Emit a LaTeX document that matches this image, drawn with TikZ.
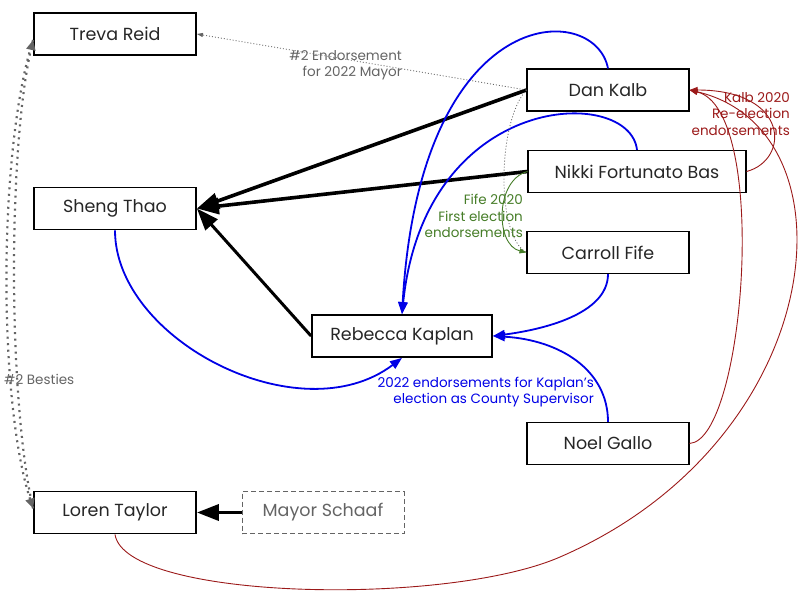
\documentclass[tikz,border=0pt]{standalone}
\usepackage{fontspec}
\setmainfont{Poppins}
\usetikzlibrary{arrows.meta}
\definecolor{kred}{RGB}{155,25,25}
\definecolor{kgreen}{RGB}{70,125,40}
\definecolor{kblue}{RGB}{0,0,230}
\definecolor{kgray}{RGB}{100,100,100}
\begin{document}
\begin{tikzpicture}[x=1pt,y=-1pt,
  person/.style={draw=black, line width=1.8pt, minimum width=162pt, minimum height=42pt, inner sep=0pt, text=black!85, font=\fontsize{17.5}{20}\selectfont},
  thinperson/.style={person, line width=1.1pt},
  strong/.style={line width=3.6pt, -{Triangle[length=22pt,width=16pt]}},
  blueedge/.style={kblue, line width=1.8pt, -{Triangle[length=12pt,width=9pt]}},
  rededge/.style={kred, line width=0.9pt, -{Triangle[length=8pt,width=6pt]}},
  greenedge/.style={kgreen, line width=0.9pt, -{Triangle[length=7pt,width=5pt]}},
  graythin/.style={kgray, line width=0.8pt, dash pattern=on 1pt off 2pt},
  besties/.style={kgray, line width=2.2pt, dash pattern=on 2pt off 4.5pt, -{Triangle[length=10pt,width=9pt,sep=0pt]}},
  lbl/.style={inner sep=0pt, align=right, font=\fontsize{13.5}{16.5}\selectfont}
]
\useasboundingbox (0,0) rectangle (800,600);

% nodes
\node[person] (treva) at (115,34) {Treva Reid};
\node[person] (sheng) at (115,208.5) {Sheng Thao};
\node[person] (loren) at (115,512.5) {Loren Taylor};
\node[person, minimum width=180pt] (kaplan) at (402,336) {Rebecca Kaplan};
\node[thinperson] (kalb) at (608,90) {Dan Kalb};
\node[thinperson, minimum width=218pt] (bas) at (637,171.5) {Nikki Fortunato Bas};
\node[thinperson] (fife) at (608,252.5) {Carroll Fife};
\node[thinperson] (gallo) at (608,443.5) {Noel Gallo};
\node[person, draw=kgray, text=kgray, line width=0.8pt, dash pattern=on 5pt off 3pt] (schaaf) at (323,512.5) {Mayor Schaaf};

% strong endorsements
\draw[strong] (kalb.west) -- (sheng.east);
\draw[strong] (bas.west) -- (sheng.east);
\draw[strong, line width=3pt] (kaplan.west) -- (sheng.east);
\draw[strong] (schaaf.west) -- (loren.east);

% mayor endorsement
\draw[graythin, -{Triangle[length=6pt,width=4pt]}] (kalb.west) -- (treva.east);
\node[lbl, text=kgray, anchor=east] (lmayor) at (402,65) {\#2 Endorsement\\for 2022 Mayor};

% besties
\draw[besties] ([yshift=-6pt]treva.west) .. controls (-2,150) and (-2,400) .. ([yshift=4pt]loren.west);
\draw[besties] ([yshift=4pt]loren.west) .. controls (8,400) and (8,150) .. ([yshift=-6pt]treva.west);
\node[lbl, text=kgray, anchor=west] (lbest) at (4,379) {\#2 Besties};

% blue Kaplan endorsements
\draw[blueedge] (kalb.north) .. controls (595,0) and (420,0) .. (kaplan.north);
\draw[blueedge] (bas.north) .. controls (630,85) and (425,90) .. (kaplan.north);
\draw[blueedge] (fife.south) .. controls (608,315) and (540,330) .. (kaplan.east);
\draw[blueedge] (gallo.north) .. controls (608,370) and (560,340) .. (kaplan.east);
\draw[blueedge] (sheng.south) .. controls (115,340) and (300,435) .. (kaplan.south);
\node[lbl, text=kblue, anchor=east] (lkaplan) at (594,392) {2022 endorsements for Kaplan's\\election as County Supervisor};

% Fife
\draw[graythin] (kalb.west) .. controls (498,120) and (495,235) .. (fife.west);
\draw[greenedge] (bas.west) .. controls (495,180) and (495,245) .. (fife.west);
\node[lbl, text=kgreen, anchor=east] (lfife) at (523,216) {Fife 2020\\First election\\endorsements};

% Kalb
\draw[rededge] (bas.east) .. controls (790,160) and (790,90) .. (kalb.east);
\draw[rededge] (gallo.east) .. controls (745,440) and (770,110) .. (kalb.east);
\draw[rededge] (loren.south) .. controls (125,600) and (445,607) .. (560,557) .. controls (830,440) and (860,130) .. (kalb.east);
\node[lbl, text=kred, anchor=east] (lkalb) at (790,114) {Kalb 2020\\Re-election\\endorsements};
\end{tikzpicture}
\end{document}
